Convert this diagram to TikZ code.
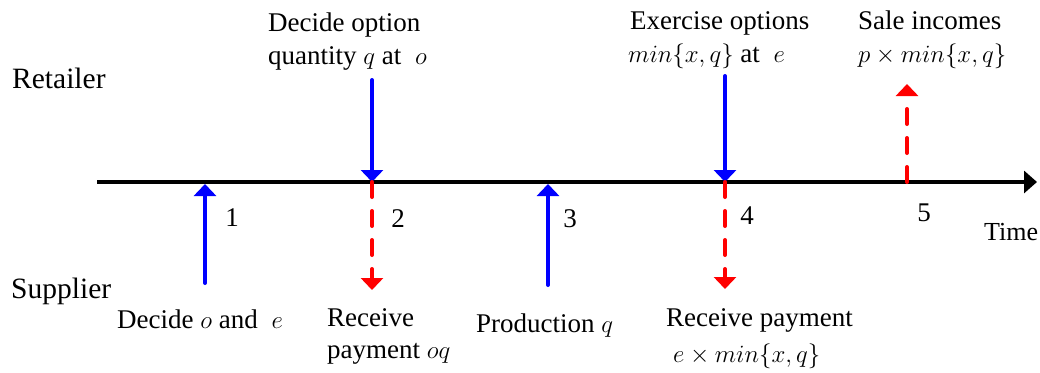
\documentclass[tikz,border=0pt]{standalone}
\usepackage{fontspec}
\newfontfamily\tnr{LiberationSerif}[Extension=.ttf, UprightFont=*-Regular, ItalicFont=*-Italic, BoldFont=*-Bold]
\usetikzlibrary{arrows.meta}
\begin{document}
\begin{tikzpicture}[x=1pt,y=-1pt,
  lbl/.style={font=\tnr\fontsize{27}{32}\selectfont, anchor=base west, inner sep=0pt},
  side/.style={font=\tnr\fontsize{29.5}{34}\selectfont, anchor=base west, inner sep=0pt},
  timelbl/.style={font=\tnr\fontsize{26}{31}\selectfont, anchor=base west, inner sep=0pt},
  num/.style={font=\tnr\fontsize{27}{32}\selectfont, anchor=base, inner sep=0pt},
  axis/.style={line width=4pt, -{Triangle[width=22pt,length=13pt]}},
  blue arrow/.style={draw=blue, line width=4pt, line cap=round, -{Triangle[width=22pt,length=12pt,line cap=butt]}},
  red arrow/.style={draw=red, line width=4pt, line cap=round, dash pattern=on 15pt off 14pt, -{Triangle[width=22pt,length=12pt]}}
]
\useasboundingbox (0,0) rectangle (1040,372);
% axis
\coordinate (a0) at (97,182);
\coordinate (a1) at (1037,182);
\draw[axis] (a0) -- (a1);
% event points on the axis
\coordinate (t1) at (205,184);
\coordinate (t2) at (372,182);
\coordinate (t3) at (548,184);
\coordinate (t4) at (725,182);
\coordinate (t5) at (907,182);
% free ends
\coordinate (s1) at (205,283);
\coordinate (r2) at (372,80);
\coordinate (d2) at (372,290);
\coordinate (s3) at (548,285);
\coordinate (r4) at (725,76);
\coordinate (d4) at (725,289);
\coordinate (u5) at (907,84);
% arrows
\draw[blue arrow] (s1) -- (t1);
\draw[blue arrow] (r2) -- (t2);
\draw[red arrow] (t2) -- (d2);
\draw[blue arrow] (s3) -- (t3);
\draw[blue arrow] (r4) -- (t4);
\draw[red arrow] (t4) -- (d4);
\draw[red arrow] (t5) -- (u5);
% numbers
\node[num] (n1) at (232,226) {1};
\node[num] (n2) at (398,227) {2};
\node[num] (n3) at (570,227) {3};
\node[num] (n4) at (747,224) {4};
\node[num] (n5) at (924,221) {5};
\node[timelbl] (time) at (984,240) {Time};
% side labels
\node[side] (ret) at (12,88) {Retailer};
\node[side] (sup) at (11,298) {Supplier};
% top labels
\node[lbl] (l2a) at (268,31) {Decide option};
\node[lbl] (l2b) at (268,64) {quantity $q$ at $\;o$};
\node[lbl] (l4a) at (630,29) {Exercise options};
\node[lbl] (l4b) at (628,62) {$min\{x,q\}$ at $\;e$};
\node[lbl] (l5a) at (858,29) {Sale incomes};
\node[lbl] (l5b) at (858,62) {$p\times min\{x,q\}$};
% bottom labels
\node[lbl] (l1) at (117,328) {Decide $o$ and $\;e$};
\node[lbl] (l2c) at (327,326) {Receive};
\node[lbl] (l2d) at (327,358) {payment $oq$};
\node[lbl] (l3) at (476,332) {Production $q$};
\node[lbl] (l4c) at (666,326) {Receive payment};
\node[lbl] (l4d) at (673,362) {$e\times min\{x,q\}$};
\end{tikzpicture}
\end{document}
